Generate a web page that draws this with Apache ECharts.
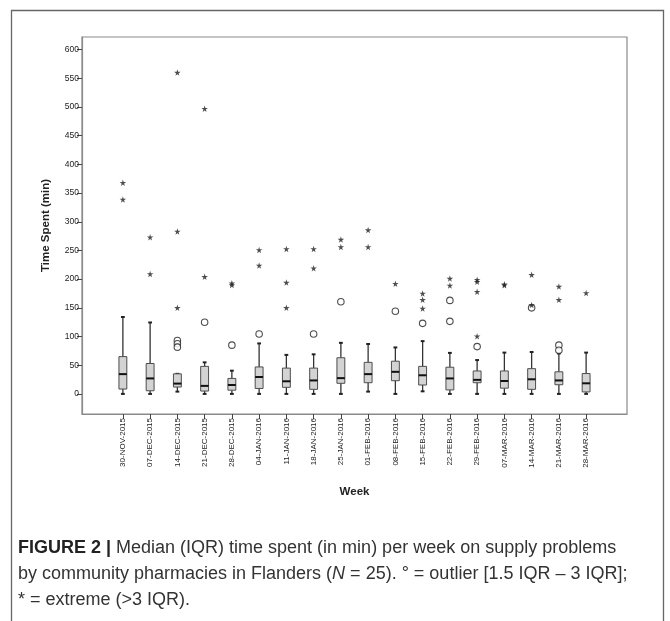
<!DOCTYPE html>
<html>
<head>
<meta charset="utf-8">
<script src="https://cdn.jsdelivr.net/npm/echarts@6/dist/echarts.min.js"></script>
<style>
html,body{margin:0;padding:0;background:#fff;}
#chart{width:670px;height:621px;}
</style>
</head>
<body>
<div id="chart"></div>
<script>
const weeks = ['30-NOV-2015','07-DEC-2015','14-DEC-2015','21-DEC-2015','28-DEC-2015','04-JAN-2016','11-JAN-2016','18-JAN-2016','25-JAN-2016','01-FEB-2016','08-FEB-2016','15-FEB-2016','22-FEB-2016','29-FEB-2016','07-MAR-2016','14-MAR-2016','21-MAR-2016','28-MAR-2016'];
const whiskerLow  = [0,   0,    4,   0,  0,   0,   0,   0,   0,   4,   0,   4.5, 0,    0,    0,   0,   0,    0];
const q1          = [8.5, 5.5,  12,  5,  6.5, 9.5, 11.5,8,   18.5,19.5,23,  15.5,7,    19.5, 10,  8,   16,   3.5];
const median      = [34.5,27,   18,  14, 15.5,29.5,22,  23.5,27.5,34.5,38.5,32.5,27,   24.5, 22.5,25.5,23.5, 18.5];
const q3          = [65,  53,   35,  48, 27,  47,  45,  45,  63,  55,  57,  48,  46.5, 40,   40,  44,  38.5, 35.5];
const whiskerHigh = [134, 124.5,35,  55, 40.5,88,  68,  69,  89,  87,  81,  92,  71.5, 59,   72,  73,  70.5, 72];
const outliers = [[],[],[93,87.5,81.5],[125],[85],[104.5],[],[104.5],[160.5],[],[144],[123],[163,126.5],[82.5],[],[150],[85,76],[]];
const extremes = [[368,339],[273,209],[560,283,150],[497,204],[193,190],[251,224],[252.5,194,150],[252.5,219],[269,256],[285.5,256],[192],[175,164,149],[201,189],[199,195.5,178,100.5],[191,189.5],[207.5,155],[187,164],[176]];
const yTicks = [0,50,100,150,200,250,300,350,400,450,500,550,600];

const cats = [''].concat(weeks).concat(['']);
const boxData = weeks.map((w,i)=>[i+1, whiskerLow[i], q1[i], median[i], q3[i], whiskerHigh[i]]);
const outData = [];
outliers.forEach((arr,i)=>arr.forEach(v=>outData.push([i+1,v])));
const extData = [];
extremes.forEach((arr,i)=>arr.forEach(v=>extData.push([i+1,v])));

const isReal = (i)=> i>=1 && i<=weeks.length;
const FONT = 'Liberation Sans, Arial, sans-serif';
const starPath = 'path://M50,0 L61,35 L98,35 L68,57 L79,91 L50,70 L21,91 L32,57 L2,35 L39,35 Z';

const chart = echarts.init(document.getElementById('chart'));
chart.setOption({
  animation:false,
  backgroundColor:'#fff',
  grid:{left:82,right:43,top:37,bottom:207,show:true,borderColor:'#8a8a8a',borderWidth:1.2,containLabel:false},
  xAxis:{
    type:'category', data:cats, boundaryGap:true,
    name:'Week', nameLocation:'middle', nameGap:72,
    nameTextStyle:{fontFamily:FONT,fontWeight:'bold',fontSize:11.5,color:'#222'},
    axisLine:{show:true,onZero:false,lineStyle:{color:'#8a8a8a',width:1.2}},
    axisTick:{show:true,alignWithLabel:true,interval:(i)=>isReal(i),length:5,lineStyle:{color:'#444'}},
    axisLabel:{interval:(i)=>isReal(i),rotate:90,fontSize:8,fontFamily:FONT,color:'#222',margin:4},
    splitLine:{show:false}
  },
  yAxis:{
    type:'value', min:-35, max:622,
    name:'Time Spent (min)', nameLocation:'middle', nameGap:30, nameRotate:90,
    nameTextStyle:{fontFamily:FONT,fontWeight:'bold',fontSize:11.5,color:'#222'},
    axisLine:{show:true,onZero:false,lineStyle:{color:'#8a8a8a',width:1.2}},
    axisTick:{show:true,customValues:yTicks,length:5,lineStyle:{color:'#444'}},
    axisLabel:{customValues:yTicks,fontSize:8.5,fontFamily:FONT,color:'#222',margin:3},
    splitLine:{show:false}
  },
  series:[
    {
      type:'custom',
      data:boxData,
      renderItem:function(params, api){
        const x = api.value(0);
        const pLow = api.coord([x, api.value(1)]);
        const pQ1 = api.coord([x, api.value(2)]);
        const pMed = api.coord([x, api.value(3)]);
        const pQ3 = api.coord([x, api.value(4)]);
        const pHigh = api.coord([x, api.value(5)]);
        const band = api.size([1,0])[0];
        const bw = band*0.29;
        const cw = band*0.14;
        const cx = pQ1[0];
        return {type:'group',children:[
          {type:'line',shape:{x1:cx,y1:pQ1[1],x2:cx,y2:pLow[1]},style:{stroke:'#333',lineWidth:1.3}},
          {type:'line',shape:{x1:cx,y1:pQ3[1],x2:cx,y2:pHigh[1]},style:{stroke:'#333',lineWidth:1.3}},
          {type:'line',shape:{x1:cx-cw/2,y1:pLow[1],x2:cx+cw/2,y2:pLow[1]},style:{stroke:'#222',lineWidth:2}},
          {type:'line',shape:{x1:cx-cw/2,y1:pHigh[1],x2:cx+cw/2,y2:pHigh[1]},style:{stroke:'#222',lineWidth:2}},
          {type:'rect',shape:{x:cx-bw/2,y:pQ3[1],width:bw,height:pQ1[1]-pQ3[1]},style:{fill:'#d3d3d3',stroke:'#4d4d4d',lineWidth:1}},
          {type:'line',shape:{x1:cx-bw/2,y1:pMed[1],x2:cx+bw/2,y2:pMed[1]},style:{stroke:'#111',lineWidth:2}}
        ]};
      },
      z:2
    },
    {
      type:'scatter', data:outData, symbol:'circle', symbolSize:6.5,
      itemStyle:{color:'#fff',borderColor:'#222',borderWidth:1.1}, z:3
    },
    {
      type:'scatter', data:extData, symbol:starPath, symbolSize:6.5,
      itemStyle:{color:'#222'}, z:3
    }
  ],
  graphic:[
    {type:'rect',left:9,top:8,shape:{width:652,height:630},style:{fill:null,stroke:'#666',lineWidth:1.3},silent:true,z:-1},
    {type:'text',left:18,top:535,style:{
      text:'{b|FIGURE 2 |} Median (IQR) time spent (in min) per week on supply problems\nby community pharmacies in Flanders ({i|N} = 25). ° = outlier [1.5 IQR – 3 IQR];\n* = extreme (>3 IQR).',
      fontFamily:'Liberation Sans, Arial, sans-serif',fontSize:18,lineHeight:26,fill:'#333',
      rich:{
        b:{fontFamily:'Liberation Sans, Arial, sans-serif',fontWeight:'bold',fontSize:18,lineHeight:26,fill:'#222'},
        i:{fontFamily:'Liberation Sans, Arial, sans-serif',fontStyle:'italic',fontSize:18,lineHeight:26,fill:'#333'}
      }
    }}
  ]
});
</script>
</body>
</html>
